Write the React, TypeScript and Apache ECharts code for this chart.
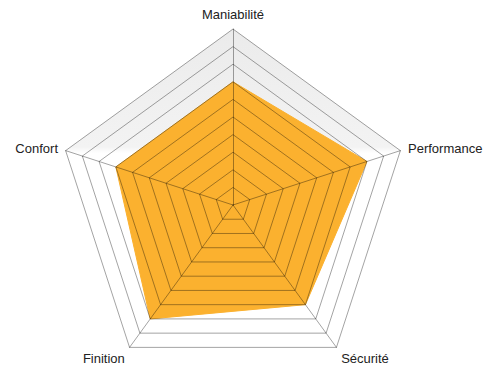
import React, { useEffect, useRef } from "react";
import * as echarts from "echarts";

const indicators = ["Maniabilité", "Confort", "Finition", "Sécurité", "Performance"];
const values = [7, 7, 8, 7, 8];
const maxValue = 10;
const lowerLabels = ["Finition", "Sécurité"];

export default function App() {
  const ref = useRef<HTMLDivElement>(null);
  useEffect(() => {
    if (!ref.current) return;
    const chart = echarts.init(ref.current, undefined, { renderer: "svg" });
    const ind = indicators.map((name) => ({ name, max: maxValue, min: 0 }));
    const bandGrad = new echarts.graphic.LinearGradient(0, 0, 0, 1, [
      { offset: 0, color: "#ebebeb" },
      { offset: 0.37, color: "#f3f3f3" },
      { offset: 0.39, color: "#ffffff" },
      { offset: 1, color: "#ffffff" },
    ]);
    const lineColor = "rgba(0,0,0,0.36)";
    chart.setOption({
      animation: false,
      radar: [
        {
          z: 0,
          center: [233, 205],
          radius: 176,
          shape: "polygon",
          splitNumber: 10,
          indicator: ind,
          axisName: {
            color: "#222",
            fontFamily: "Liberation Sans, Arial, sans-serif",
            fontSize: 13,
            formatter: (name: string) =>
              lowerLabels.indexOf(name) >= 0 ? `{lo|${name}}` : `{n|${name}}`,
            rich: {
              n: { fontSize: 13, color: "#222", fontFamily: "Liberation Sans, Arial, sans-serif" },
              lo: {
                fontSize: 13,
                color: "#222",
                fontFamily: "Liberation Sans, Arial, sans-serif",
                padding: [10, 0, 0, 0],
              },
            },
          },
          nameGap: 8,
          splitArea: { show: true, areaStyle: { color: [bandGrad] } },
          splitLine: { show: false },
          axisLine: { show: false },
          axisTick: { show: false },
          axisLabel: { show: false },
        },
        {
          z: 3,
          center: [233, 205],
          radius: 176,
          shape: "polygon",
          splitNumber: 10,
          indicator: ind,
          axisName: { show: false },
          splitArea: { show: false },
          splitLine: { show: true, lineStyle: { color: lineColor, width: 1 } },
          axisLine: { show: true, lineStyle: { color: lineColor, width: 1 } },
          axisTick: { show: false },
          axisLabel: { show: false },
          silent: true,
        },
      ],
      series: [
        {
          type: "radar",
          radarIndex: 0,
          symbol: "none",
          data: [
            {
              value: values,
              areaStyle: { color: "#fbb12f", opacity: 1 },
              lineStyle: { color: "#fbb12f", width: 1 },
            },
          ],
        },
      ],
    });
    return () => chart.dispose();
  }, []);
  return <div ref={ref} style={{ width: 496, height: 382, position: "absolute", left: 0, top: 0 }} />;
}
